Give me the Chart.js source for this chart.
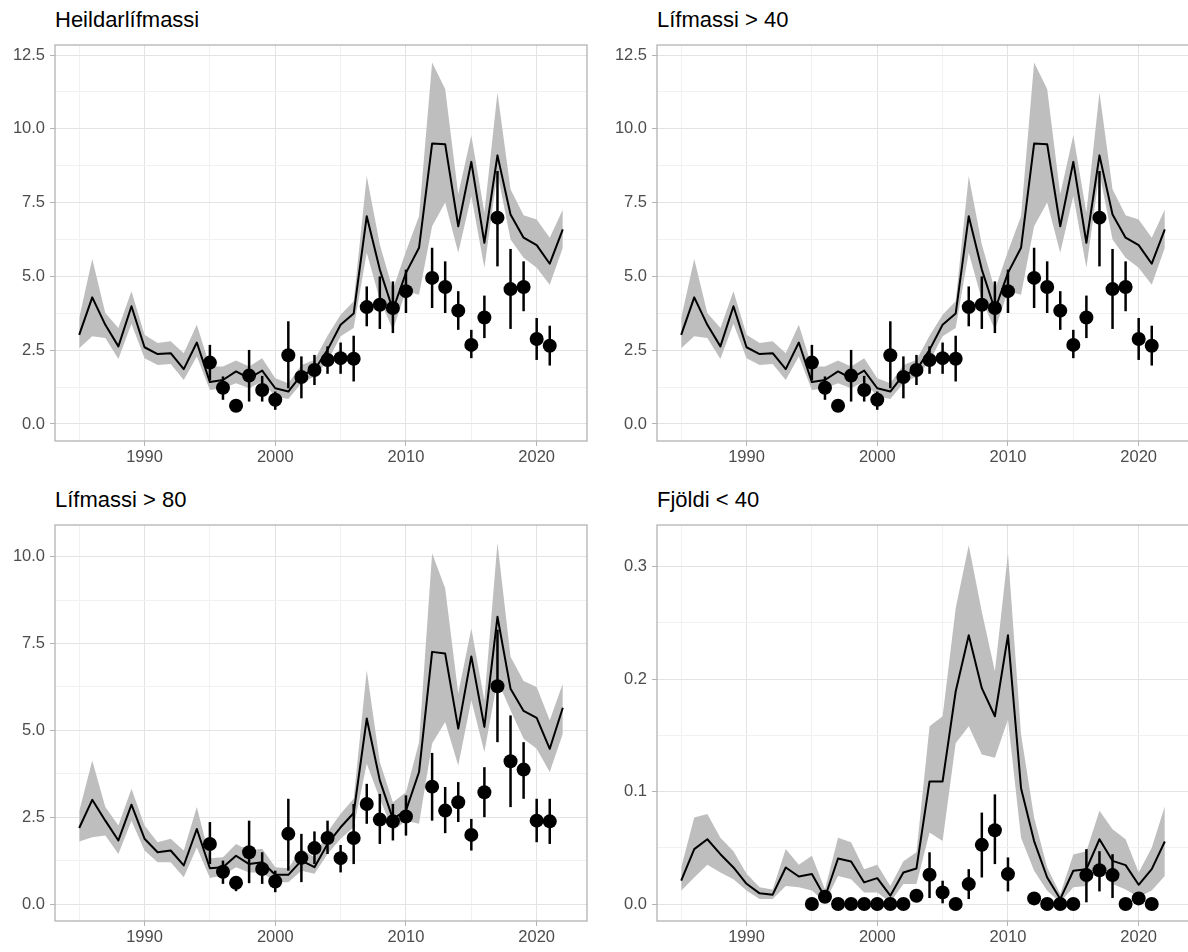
<!DOCTYPE html>
<html>
<head>
<meta charset="utf-8">
<script src="https://cdn.jsdelivr.net/npm/chart.js@4/dist/chart.umd.min.js"></script>
<style>
  body { margin: 0; background: #fff; width: 1188px; height: 952px; overflow: hidden; position: relative;
         font-family: 'Liberation Sans', Arial, sans-serif; }
  canvas { position: absolute; }
  .title { position: absolute; font-size: 22px; line-height: 22px; color: #000; white-space: nowrap; }
</style>
</head>
<body>
<div class="title" style="left:55px;top:9px">Heildarlífmassi</div>
<div class="title" style="left:657px;top:9px">Lífmassi &gt; 40</div>
<div class="title" style="left:55px;top:489px">Lífmassi &gt; 80</div>
<div class="title" style="left:657px;top:489px">Fjöldi &lt; 40</div>

<canvas id="p1" width="594" height="470" style="left:0;top:0"></canvas>
<canvas id="p2" width="594" height="470" style="left:602px;top:0"></canvas>
<canvas id="p3" width="594" height="470" style="left:0;top:480px"></canvas>
<canvas id="p4" width="594" height="470" style="left:602px;top:480px"></canvas>

<script>
// Ár líkans og ár stofnmælinga
const years = [1985, 1986, 1987, 1988, 1989, 1990, 1991, 1992, 1993, 1994, 1995, 1996, 1997,
  1998, 1999, 2000, 2001, 2002, 2003, 2004, 2005, 2006, 2007, 2008, 2009, 2010, 2011, 2012,
  2013, 2014, 2015, 2016, 2017, 2018, 2019, 2020, 2021, 2022];
const surveyYears = [1995, 1996, 1997, 1998, 1999, 2000, 2001, 2002, 2003, 2004, 2005, 2006,
  2007, 2008, 2009, 2010, 2012, 2013, 2014, 2015, 2016, 2017, 2018, 2019, 2020, 2021];

// Heildarlífmassi
const heildEst = [3.02, 4.29, 3.36, 2.63, 3.99, 2.6, 2.37, 2.4, 1.86, 2.76, 1.42, 1.49, 1.78,
  1.55, 1.81, 1.21, 1.1, 1.66, 1.83, 2.51, 3.36, 3.74, 7.04, 5.23, 3.87, 5.12, 5.97, 9.5,
  9.48, 6.7, 8.88, 6.14, 9.1, 7.1, 6.31, 6.06, 5.43, 6.59];
const heildUpper = [3.59, 5.59, 3.76, 3.25, 4.5, 3.02, 2.74, 2.8, 2.4, 3.36, 1.95, 1.95, 2.15,
  1.95, 2.23, 1.55, 1.38, 2.0, 2.17, 2.99, 3.7, 4.16, 8.4, 6.08, 4.55, 5.85, 7.04, 12.25,
  11.35, 7.78, 9.78, 7.16, 11.23, 7.95, 7.07, 6.93, 6.31, 7.27];
const heildLower = [2.57, 2.97, 2.91, 2.2, 3.4, 2.23, 2.0, 2.03, 1.49, 2.29, 1.15, 1.21, 1.38,
  1.21, 1.44, 0.93, 0.85, 1.38, 1.61, 2.12, 2.97, 3.25, 5.8, 4.21, 3.19, 4.5, 4.38, 6.7,
  7.5, 5.8, 7.72, 5.29, 8.5, 6.25, 5.63, 5.29, 4.72, 5.97];
const heildIdx = [2.08, 1.23, 0.62, 1.64, 1.15, 0.82, 2.33, 1.59, 1.83, 2.17, 2.23, 2.21,
  3.96, 4.04, 3.93, 4.5, 4.95, 4.64, 3.84, 2.68, 3.61, 6.99, 4.57, 4.64, 2.88, 2.65];
const heildIdxLo = [1.49, 0.82, 0.5, 0.76, 0.76, 0.48, 1.21, 0.87, 1.32, 1.7, 1.7, 1.44,
  3.31, 3.22, 3.08, 3.76, 3.93, 3.76, 3.19, 2.23, 2.91, 5.34, 3.22, 3.82, 2.17, 1.98];
const heildIdxHi = [2.68, 1.61, 0.75, 2.51, 1.63, 1.1, 3.48, 2.29, 2.34, 2.63, 2.76, 2.99,
  4.66, 5.0, 4.83, 5.23, 5.97, 5.51, 4.5, 3.19, 4.35, 8.57, 5.93, 5.51, 3.59, 3.33];

// Lífmassi > 40 (sömu gildi og heildarlífmassi á myndinni)
const lif40Est = heildEst, lif40Upper = heildUpper, lif40Lower = heildLower;
const lif40Idx = heildIdx, lif40IdxLo = heildIdxLo, lif40IdxHi = heildIdxHi;

// Lífmassi > 80
const lif80Est = [2.19, 3.0, 2.4, 1.83, 2.86, 1.88, 1.49, 1.54, 1.11, 2.16, 1.03, 1.06, 1.39,
  1.15, 1.2, 0.84, 0.84, 1.25, 1.06, 1.73, 2.21, 2.62, 5.34, 3.56, 2.45, 2.69, 3.8, 7.26,
  7.21, 5.05, 7.13, 5.1, 8.27, 6.2, 5.56, 5.36, 4.47, 5.65];
const lif80Upper = [2.67, 4.13, 2.79, 2.26, 3.32, 2.26, 1.78, 1.88, 1.54, 2.79, 1.32, 1.35, 1.73,
  1.54, 1.59, 1.06, 1.03, 1.59, 1.35, 2.07, 2.6, 3.03, 6.73, 4.09, 2.93, 3.22, 4.66, 10.1,
  9.09, 6.06, 7.93, 5.87, 10.4, 7.12, 6.42, 6.25, 5.29, 6.35];
const lif80Lower = [1.8, 1.92, 1.97, 1.44, 2.4, 1.54, 1.2, 1.2, 0.77, 1.63, 0.75, 0.82, 1.06,
  0.91, 0.91, 0.63, 0.63, 0.96, 0.87, 1.44, 1.88, 2.21, 4.04, 3.03, 2.12, 2.4, 2.31, 4.62,
  5.24, 3.99, 5.87, 4.38, 6.44, 5.58, 4.76, 4.47, 3.8, 4.9];
const lif80Idx = [1.73, 0.93, 0.61, 1.49, 1.01, 0.65, 2.02, 1.33, 1.61, 1.9, 1.32, 1.9,
  2.88, 2.43, 2.38, 2.52, 3.38, 2.69, 2.93, 1.99, 3.22, 6.27, 4.11, 3.87, 2.4, 2.38];
const lif80IdxLo = [1.15, 0.58, 0.37, 0.6, 0.58, 0.34, 0.96, 0.63, 1.15, 1.44, 0.91, 1.15,
  2.31, 1.73, 1.83, 1.97, 2.4, 2.04, 2.36, 1.54, 2.5, 4.66, 2.79, 3.03, 1.78, 1.73];
const lif80IdxHi = [2.36, 1.25, 0.75, 2.4, 1.49, 0.96, 3.03, 2.02, 2.09, 2.4, 1.7, 2.88,
  3.46, 3.17, 2.88, 3.13, 4.35, 3.37, 3.51, 2.45, 3.94, 7.9, 5.43, 4.66, 3.03, 3.03];

// Fjöldi < 40
const n40Est = [0.0207, 0.0488, 0.0576, 0.0443, 0.0325, 0.018, 0.0095, 0.0083, 0.0325, 0.0245,
  0.0266, 0.006, 0.0405, 0.0378, 0.0192, 0.023, 0.0074, 0.028, 0.0316, 0.109, 0.109, 0.189,
  0.239, 0.192, 0.167, 0.239, 0.103, 0.056, 0.0236, 0.0044, 0.0296, 0.031, 0.0576, 0.0384,
  0.0346, 0.0171, 0.031, 0.0556];
const n40Upper = [0.0325, 0.077, 0.08, 0.059, 0.047, 0.027, 0.015, 0.013, 0.049, 0.035,
  0.043, 0.013, 0.059, 0.055, 0.031, 0.035, 0.016, 0.038, 0.046, 0.158, 0.167, 0.263,
  0.319, 0.26, 0.207, 0.312, 0.151, 0.077, 0.0325, 0.009, 0.044, 0.047, 0.083, 0.0665,
  0.0576, 0.028, 0.05, 0.087];
const n40Lower = [0.0118, 0.0236, 0.035, 0.028, 0.022, 0.012, 0.0044, 0.0044, 0.016, 0.015,
  0.012, 0.0015, 0.025, 0.022, 0.0103, 0.0103, 0.0015, 0.0177, 0.0177, 0.0636, 0.056, 0.143,
  0.158, 0.133, 0.13, 0.164, 0.059, 0.0296, 0.0118, 0.0015, 0.015, 0.016, 0.034, 0.0177,
  0.013, 0.006, 0.012, 0.025];
const n40Idx = [0, 0.0065, 0, 0, 0, 0, 0, 0, 0.0074, 0.026, 0.0103, 0, 0.0177, 0.0526,
  0.0656, 0.0266, 0.005, 0, 0, 0, 0.0257, 0.030, 0.0257, 0, 0.005, 0];
const n40IdxLo = [0, 0.004, 0, 0, 0, 0, 0, 0, 0.005, 0.0053, 0.0006, 0, 0.0044, 0.0236,
  0.0355, 0.0112, 0.004, 0, 0, 0, 0.0015, 0.0112, 0.0053, 0, 0.004, 0];
const n40IdxHi = [0, 0.009, 0, 0, 0, 0, 0, 0, 0.009, 0.046, 0.0207, 0, 0.031, 0.0813,
  0.0975, 0.0414, 0.006, 0, 0, 0, 0.0488, 0.047, 0.0443, 0, 0.006, 0];

// Ásmerki
const xTicks = [1985, 1990, 1995, 2000, 2005, 2010, 2015, 2020];
const yTicksBig = [0, 1.25, 2.5, 3.75, 5, 6.25, 7.5, 8.75, 10, 11.25, 12.5];
const yTicks80 = [0, 1.25, 2.5, 3.75, 5, 6.25, 7.5, 8.75, 10];
const yTicksN = [0, 0.05, 0.1, 0.15, 0.2, 0.25, 0.3];

const majorGrid = '#e3e3e3';
const minorGrid = '#f1f1f1';
const tickFont = { family: "'Liberation Sans', Arial, sans-serif", size: 16.5 };

// Villustikur og rammi
function errbarPlugin(lo, hi) {
    return {
        id: 'errbars',
        afterDatasetDraw(chart, args) {
            if (args.index !== 2) return;
            const { ctx, scales: { x, y } } = chart;
            ctx.save();
            ctx.strokeStyle = '#000';
            ctx.lineWidth = 2.5;
            surveyYears.forEach((yr, i) => {
                const px = x.getPixelForValue(yr);
                ctx.beginPath();
                ctx.moveTo(px, y.getPixelForValue(lo[i]));
                ctx.lineTo(px, y.getPixelForValue(hi[i]));
                ctx.stroke();
            });
            ctx.restore();
        }
    };
}

const borderPlugin = {
    id: 'panelBorder',
    afterDraw(chart) {
        const { ctx, chartArea: a } = chart;
        ctx.save();
        ctx.strokeStyle = '#b3b3b3';
        ctx.lineWidth = 1.3;
        ctx.strokeRect(a.left, a.top, a.right - a.left, a.bottom - a.top);
        ctx.restore();
    }
};

function makePanel(id, p) {
    new Chart(document.getElementById(id), {
        type: 'line',
        data: {
            datasets: [
                { data: years.map((x, i) => ({ x, y: p.upper[i] })), borderWidth: 0, pointRadius: 0, fill: false, order: 4 },
                { data: years.map((x, i) => ({ x, y: p.lower[i] })), borderWidth: 0, pointRadius: 0, fill: '-1',
                  backgroundColor: '#bebebe', order: 3 },
                { data: years.map((x, i) => ({ x, y: p.est[i] })), borderColor: '#000', borderWidth: 2,
                  borderJoinStyle: 'round', pointRadius: 0, fill: false, order: 2 },
                { data: surveyYears.map((x, i) => ({ x, y: p.idx[i] })), showLine: false, pointRadius: 7,
                  pointBackgroundColor: '#000', pointBorderWidth: 0, borderColor: '#000', order: 1 }
            ]
        },
        options: {
            responsive: false,
            animation: false,
            events: [],
            layout: { padding: { top: 45, right: 4, left: 0, bottom: 0 } },
            plugins: { legend: { display: false }, tooltip: { enabled: false } },
            scales: {
                x: {
                    type: 'linear', min: 1983.15, max: 2023.85,
                    afterBuildTicks: s => { s.ticks = xTicks.map(v => ({ value: v })); },
                    afterFit: s => { s.height = 29; },
                    border: { display: false },
                    grid: {
                        color: c => (c.tick && c.tick.value % 10 === 0) ? majorGrid : minorGrid,
                        tickColor: c => (c.tick && c.tick.value % 10 === 0) ? '#b3b3b3' : 'rgba(0,0,0,0)',
                        lineWidth: 1, tickLength: 5
                    },
                    ticks: {
                        autoSkip: false, maxRotation: 0, padding: 2, color: '#4d4d4d', font: tickFont,
                        callback: v => v % 10 === 0 ? String(v) : ''
                    }
                },
                y: {
                    min: p.ymin, max: p.ymax,
                    afterBuildTicks: s => { s.ticks = p.yTicks.map(v => ({ value: v })); },
                    afterFit: s => { s.width = 55; },
                    border: { display: false },
                    grid: {
                        color: c => (c.tick && p.isMajor(c.tick.value)) ? majorGrid : minorGrid,
                        tickColor: c => (c.tick && p.isMajor(c.tick.value)) ? '#b3b3b3' : 'rgba(0,0,0,0)',
                        lineWidth: 1, tickLength: 5
                    },
                    ticks: {
                        autoSkip: false, padding: 5, color: '#4d4d4d', font: tickFont,
                        callback: v => p.isMajor(v) ? v.toFixed(1) : ''
                    }
                }
            }
        },
        plugins: [errbarPlugin(p.lo, p.hi), borderPlugin]
    });
}

const isBigMajor = v => Math.abs(v / 2.5 - Math.round(v / 2.5)) < 1e-9;
const isNMajor = v => Math.abs(v * 10 - Math.round(v * 10)) < 1e-9;

makePanel('p1', { est: heildEst, upper: heildUpper, lower: heildLower, idx: heildIdx, lo: heildIdxLo, hi: heildIdxHi,
    ymin: -0.576, ymax: 12.839, yTicks: yTicksBig, isMajor: isBigMajor });
makePanel('p2', { est: lif40Est, upper: lif40Upper, lower: lif40Lower, idx: lif40Idx, lo: lif40IdxLo, hi: lif40IdxHi,
    ymin: -0.576, ymax: 12.839, yTicks: yTicksBig, isMajor: isBigMajor });
makePanel('p3', { est: lif80Est, upper: lif80Upper, lower: lif80Lower, idx: lif80Idx, lo: lif80IdxLo, hi: lif80IdxHi,
    ymin: -0.489, ymax: 10.913, yTicks: yTicks80, isMajor: isBigMajor });
makePanel('p4', { est: n40Est, upper: n40Upper, lower: n40Lower, idx: n40Idx, lo: n40IdxLo, hi: n40IdxHi,
    ymin: -0.01512, ymax: 0.3371, yTicks: yTicksN, isMajor: isNMajor });
</script>
</body>
</html>
